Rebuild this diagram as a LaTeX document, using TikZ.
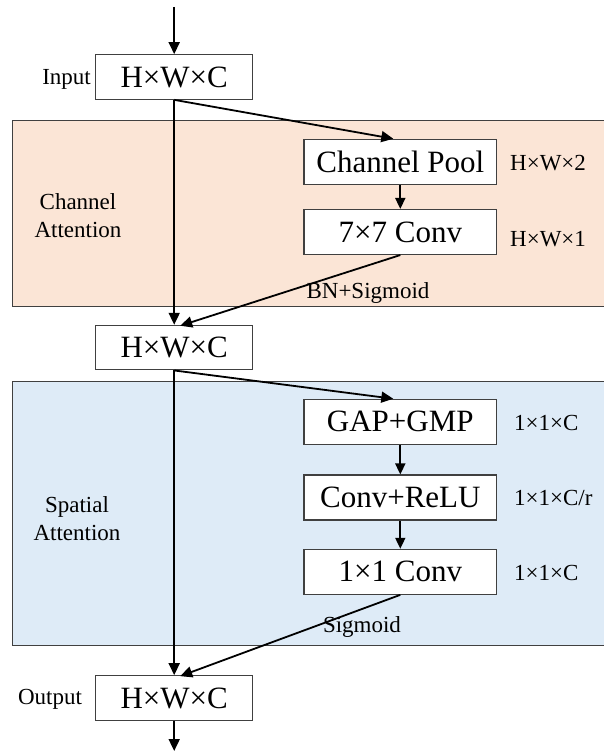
\documentclass[tikz,border=0pt]{standalone}
\usepackage{fontspec}
\setmainfont{Liberation Serif}
\usetikzlibrary{arrows.meta,positioning}

\definecolor{caFill}{HTML}{FBE5D6}
\definecolor{saFill}{HTML}{DEEBF7}
\definecolor{edge}{HTML}{404040}

\tikzset{
  opbox/.style={draw=edge, line width=1.1pt, fill=white, minimum width=192.7pt,
    minimum height=45pt, inner sep=0pt, font=\fontsize{31}{36}\selectfont},
  tensorbox/.style={opbox, minimum width=157pt, minimum height=44.6pt},
  region/.style={draw=edge, line width=1pt},
  side/.style={inner sep=0pt, font=\fontsize{23}{27}\selectfont},
  flow/.style={line width=1.8pt, -{Triangle[length=12pt,width=11pt]}},
  shortflow/.style={line width=1.8pt, -{Triangle[length=11pt,width=10pt]}}
}

\begin{document}
\begin{tikzpicture}[x=1pt,y=-1pt]
\useasboundingbox (0,0) rectangle (603,751);

% attention stage backgrounds
\fill[caFill] (12.7,121) rectangle (620,306);
\draw[region] (620,121) -- (12.7,121) -- (12.7,306) -- (620,306);
\fill[saFill] (12.7,381.3) rectangle (620,645);
\draw[region] (620,381.3) -- (12.7,381.3) -- (12.7,645) -- (620,645);

% tensors on the main path
\node[tensorbox] (inp) at (174.2,77) {H×W×C};
\node[tensorbox] (mid) at (174.2,347.6) {H×W×C};
\node[tensorbox] (out) at (174.2,698) {H×W×C};

% channel attention branch
\node[opbox] (cp)    at (400.3,161.8) {Channel Pool};
\node[opbox] (conv7) at (400.3,232) {7×7 Conv};

% spatial attention branch
\node[opbox] (gap)   at (400.3,421.8) {GAP+GMP};
\node[opbox] (relu)  at (400.3,497.5) {Conv+ReLU};
\node[opbox] (conv1) at (400.3,571.8) {1×1 Conv};

% labels
\node[side, anchor=east] (lin) at (91,79) {Input};
\node[side] (lout) at (50,699) {Output};
\node[side, align=center] (lca) at (78,216) {Channel\\[1pt]Attention};
\node[side, align=center] (lsa) at (77,519) {Spatial\\[1pt]Attention};
\node[side, anchor=west] (s1) at (510,163) {H×W×2};
\node[side, anchor=west] (s2) at (510,239) {H×W×1};
\node[side, anchor=west] (s3) at (514,423) {1×1×C};
\node[side, anchor=west] (s4) at (514,498) {1×1×C/r};
\node[side, anchor=west] (s5) at (514,573) {1×1×C};
\node[side] (bn)  at (368,293) {BN+Sigmoid};
\node[side] (sig) at (362,627) {Sigmoid};

% connectors
\coordinate (top) at (174.2,7);
\coordinate (bottom) at (174.2,751);
\draw[flow] (top) -- (inp.north);
\draw[flow] (inp.south) -- (mid.north);
\draw[flow] (inp.south) -- ([xshift=-7pt]cp.north);
\draw[shortflow] (cp.south) -- (conv7.north);
\draw[flow] (conv7.south) -- ([xshift=6pt,yshift=-1pt]mid.north);
\draw[flow] (mid.south) -- (out.north);
\draw[flow] (mid.south) -- ([xshift=-7pt]gap.north);
\draw[shortflow] (gap.south) -- (relu.north);
\draw[shortflow] (relu.south) -- (conv1.north);
\draw[flow] (conv1.south) -- ([xshift=6pt,yshift=-1pt]out.north);
\draw[flow] (out.south) -- (bottom);
\end{tikzpicture}
\end{document}
